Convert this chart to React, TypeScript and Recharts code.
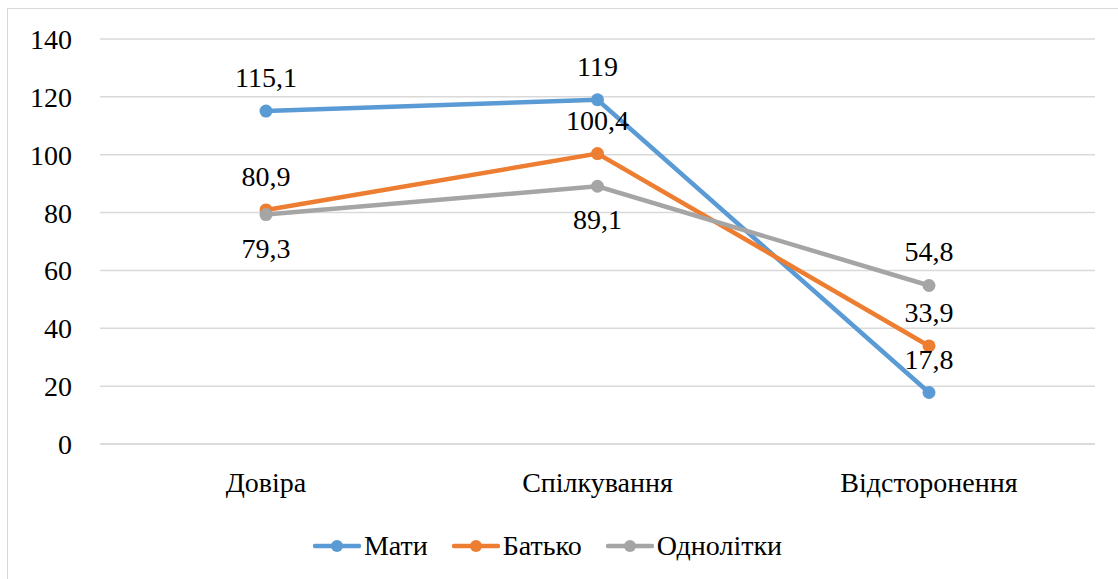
import React from "react"
import { LineChart, Line, XAxis, YAxis, CartesianGrid, Legend, LabelList } from "recharts"

const categories = ["Довіра", "Спілкування", "Відсторонення"]
const mother = [115.1, 119, 17.8]
const father = [80.9, 100.4, 33.9]
const peers = [79.3, 89.1, 54.8]
const yTicks = [0, 20, 40, 60, 80, 100, 120, 140]

// which points get their label under the marker
const series = [
  { key: "mother", name: "Мати", color: "#5B9BD5", below: [] as number[] },
  { key: "father", name: "Батько", color: "#ED7D31", below: [] as number[] },
  { key: "peers", name: "Однолітки", color: "#A5A5A5", below: [0, 1] },
]

const data = categories.map((name, i) => ({
  name,
  mother: mother[i],
  father: father[i],
  peers: peers[i],
}))

const FONT = '"Liberation Serif", "DejaVu Serif", "Times New Roman", serif'
const W = 1118
const H = 579

const fmt = (v: number) => String(v).replace(".", ",")

function makeLabel(below: number[]) {
  return (props: any) => {
    const { x, y, value, index } = props
    const isBelow = below.includes(index)
    return (
      <text
        x={x}
        y={isBelow ? y + 43 : y - 24}
        textAnchor="middle"
        style={{ fontSize: 28, fontFamily: FONT }}
        fill="#000"
      >
        {fmt(value)}
      </text>
    )
  }
}

function LegendContent() {
  return (
    <div
      style={{
        height: 55,
        display: "flex",
        justifyContent: "center",
        alignItems: "center",
        fontFamily: FONT,
        fontSize: 28,
        color: "#000",
      }}
    >
      {series.map((s) => (
        <div key={s.key} style={{ display: "flex", alignItems: "center", margin: "0 12px" }}>
          <svg width={48} height={16} style={{ marginRight: 3 }}>
            <line x1={2} y1={8} x2={46} y2={8} stroke={s.color} strokeWidth={4.5} strokeLinecap="round" />
            <circle cx={24} cy={8} r={6} fill={s.color} />
          </svg>
          <span>{s.name}</span>
        </div>
      ))}
    </div>
  )
}

export default function App() {
  return (
    <div style={{ position: "absolute", left: 0, top: 0, width: W, height: H, background: "#fff", overflow: "hidden" }}>
      <div
        style={{
          position: "absolute",
          left: 7,
          top: 8,
          width: W,
          height: H,
          border: "1.5px solid #d9d9d9",
          boxSizing: "border-box",
        }}
      />
      <LineChart
        width={W}
        height={H}
        data={data}
        margin={{ top: 39, right: 23, bottom: 6, left: 0 }}
        style={{ position: "absolute", left: 0, top: 0 }}
      >
        <CartesianGrid vertical={false} stroke="#d9d9d9" strokeWidth={1.5} />
        <XAxis
          dataKey="name"
          height={74}
          padding={{ left: 166, right: 166 }}
          axisLine={{ stroke: "#d9d9d9", strokeWidth: 1.5 }}
          tickLine={false}
          tickSize={0}
          tickMargin={28}
          tick={{ fontSize: 28, fontFamily: FONT, fill: "#000" }}
        />
        <YAxis
          width={100}
          domain={[0, 140]}
          ticks={yTicks}
          axisLine={false}
          tickLine={false}
          tickSize={0}
          tickMargin={28}
          tick={{ fontSize: 28, fontFamily: FONT, fill: "#000" }}
        />
        <Legend verticalAlign="bottom" content={<LegendContent />} />
        {series.map((s) => (
          <Line
            key={s.key}
            dataKey={s.key}
            name={s.name}
            stroke={s.color}
            strokeWidth={4.5}
            dot={{ r: 6.5, fill: s.color, stroke: s.color, strokeWidth: 0 }}
            activeDot={false}
            isAnimationActive={false}
          >
            <LabelList dataKey={s.key} content={makeLabel(s.below)} />
          </Line>
        ))}
      </LineChart>
    </div>
  )
}
